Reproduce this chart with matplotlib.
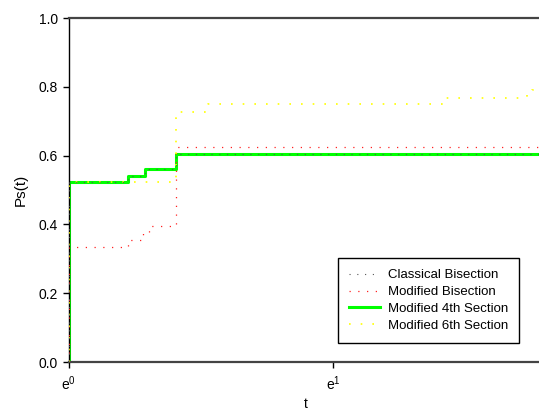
import numpy as np
import matplotlib
matplotlib.use('Agg')
import matplotlib.pyplot as plt
from matplotlib.ticker import FixedLocator, NullLocator, FuncFormatter

plt.rcParams['font.family'] = ['Liberation Sans', 'DejaVu Sans']
plt.rcParams['mathtext.fontset'] = 'custom'
plt.rcParams['mathtext.rm'] = 'Liberation Sans'
plt.rcParams['mathtext.it'] = 'Liberation Sans'

# data
t_classical = [1, 1, 1.25, 1.333, 1.5, 6]
ps_classical = [0, 0.523, 0.541, 0.562, 0.605, 0.605]

t_mod_bis = [1, 1, 1.25, 1.325, 1.355, 1.5, 6]
ps_mod_bis = [0, 0.333, 0.355, 0.375, 0.396, 0.625, 0.625]

t_mod4 = [1, 1, 1.25, 1.333, 1.5, 6]
ps_mod4 = [0, 0.523, 0.541, 0.562, 0.605, 0.605]

t_mod6 = [1, 1, 1.5, 1.69, 4.12, 5.64, 5.75, 6]
ps_mod6 = [0, 0.523, 0.727, 0.749, 0.767, 0.781, 0.791, 0.80]

labels = ['Classical Bisection', 'Modified Bisection',
          'Modified 4th Section', 'Modified 6th Section']

fig = plt.figure(figsize=(5.39, 4.12), dpi=100)
ax = fig.add_axes([68.5 / 539, 50 / 412, 474.8 / 539, 344 / 412])

dots = (0, (1, 6))
l2, = ax.plot(t_mod_bis, ps_mod_bis, drawstyle='steps-post', color='#ff2020',
              lw=0.9, linestyle=dots, zorder=3)
l4, = ax.plot(t_mod4, ps_mod4, drawstyle='steps-post', color='#00ff00',
              lw=2.2, zorder=2)
l6, = ax.plot(t_mod6, ps_mod6, drawstyle='steps-post', color='#ffff00',
              lw=1.2, linestyle=dots, zorder=3)
l1, = ax.plot(t_classical, ps_classical, drawstyle='steps-post', color='#555555',
              lw=0.8, linestyle=dots, zorder=4)

ax.set_xscale('log', base=np.e)
ax.set_xlim(1, 6)
ax.set_ylim(0, 1)
ax.xaxis.set_major_locator(FixedLocator([1, np.e]))
ax.xaxis.set_minor_locator(NullLocator())
ax.xaxis.set_major_formatter(FuncFormatter(
    lambda v, p: r'$\mathregular{e^{%d}}$' % round(np.log(v))))
ax.set_yticks([0, 0.2, 0.4, 0.6, 0.8, 1.0])
ax.yaxis.set_major_formatter(FuncFormatter(lambda v, p: '%.1f' % v))

ax.tick_params(direction='out', length=4, width=1, labelsize=10, colors='black')
ax.tick_params(axis='x', pad=5)

ax.spines['left'].set_color('black')
ax.spines['left'].set_linewidth(1)
for s in ['top', 'bottom']:
    ax.spines[s].set_color('#444444')
    ax.spines[s].set_linewidth(1.6)
ax.spines['right'].set_visible(False)

ax.set_xlabel('t', fontsize=10, labelpad=3)
ax.set_ylabel('Ps(t)', fontsize=11, labelpad=8)

leg = ax.legend([l1, l2, l4, l6], labels, loc='lower right',
                bbox_to_anchor=(0.949, 0.055), fontsize=9.5, frameon=True,
                fancybox=False, framealpha=1, edgecolor='black',
                handlelength=2.3, handletextpad=0.6, labelspacing=0.35,
                borderpad=0.85, borderaxespad=0)
leg.get_frame().set_linewidth(1)

fig.savefig('out.png', dpi=100)
